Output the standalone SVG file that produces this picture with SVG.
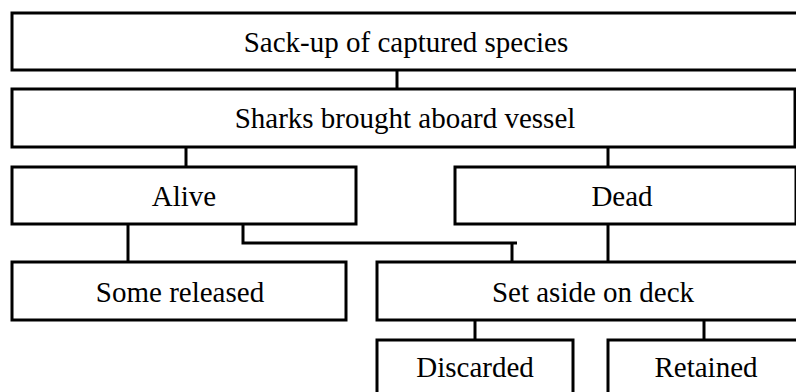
<svg xmlns="http://www.w3.org/2000/svg" width="796" height="392" viewBox="0 0 796 392">
  <style>
    .box { fill: #ffffff; stroke: #000000; stroke-width: 3; }
    .lbl { font-family: "Liberation Serif", "Times New Roman", serif; font-size: 29px; fill: #000000; text-anchor: middle; }
    .link { fill: none; stroke: #000000; stroke-width: 3; }
  </style>
  <rect width="796" height="392" fill="#ffffff"/>

  <g id="connectors">
    <line class="link" x1="397" y1="70" x2="397" y2="89"/>
    <line class="link" x1="186" y1="147" x2="186" y2="167"/>
    <line class="link" x1="608" y1="147" x2="608" y2="166"/>
    <line class="link" x1="128" y1="224" x2="128" y2="262"/>
    <polyline class="link" points="243,224 243,243 517,243"/>
    <line class="link" x1="512" y1="243" x2="512" y2="262"/>
    <line class="link" x1="608" y1="224" x2="608" y2="266"/>
    <line class="link" x1="475" y1="320" x2="475" y2="340"/>
    <line class="link" x1="704" y1="320" x2="704" y2="340"/>
  </g>

  <g id="sack-up">
    <rect class="box" x="12" y="13" width="790" height="57"/>
    <text class="lbl" x="406" y="52">Sack-up of captured species</text>
  </g>
  <g id="aboard">
    <rect class="box" x="12" y="89" width="783" height="58"/>
    <text class="lbl" x="405" y="128">Sharks brought aboard vessel</text>
  </g>
  <g id="alive">
    <rect class="box" x="12" y="167" width="344" height="57"/>
    <text class="lbl" x="184" y="206">Alive</text>
  </g>
  <g id="dead">
    <rect class="box" x="455" y="167" width="341" height="57"/>
    <text class="lbl" x="622" y="206">Dead</text>
  </g>
  <g id="released">
    <rect class="box" x="12" y="262" width="334" height="58"/>
    <text class="lbl" x="180" y="302">Some released</text>
  </g>
  <g id="set-aside">
    <rect class="box" x="377" y="262" width="433" height="58"/>
    <text class="lbl" x="593" y="302">Set aside on deck</text>
  </g>
  <g id="discarded">
    <rect class="box" x="377" y="340" width="196" height="58"/>
    <text class="lbl" x="475" y="377">Discarded</text>
  </g>
  <g id="retained">
    <rect class="box" x="608" y="340" width="196" height="58"/>
    <text class="lbl" x="706" y="377">Retained</text>
  </g>
</svg>
